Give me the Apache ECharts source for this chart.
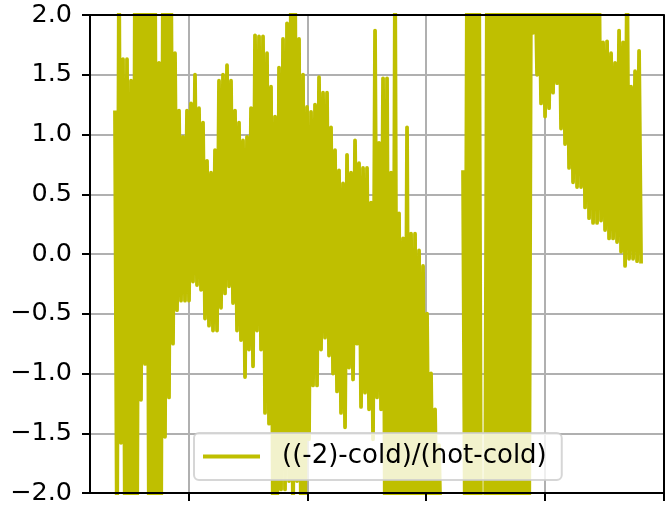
<!DOCTYPE html>
<html>
<head>
<meta charset="utf-8">
<script src="https://cdn.jsdelivr.net/npm/echarts@6.0.0/dist/echarts.min.js"></script>
<style>
  html, body { margin: 0; padding: 0; background: #ffffff; }
  #chart { width: 667px; height: 508px; }
</style>
</head>
<body>
<div id="chart"></div>
<script>
// ---- data ----
const seriesName = '((-2)-cold)/(hot-cold)';
const yTicks = [-2.0, -1.5, -1.0, -0.5, 0.0, 0.5, 1.0, 1.5, 2.0];
const xTicks = [1, 2, 3, 4, 5];          // x tick positions (labels are cut off in the reference)
const xRange = [0.166, 5.0];
const sampleStart = 0.3767;              // x of first sample
const sampleStep = 0.03372;              // spacing between successive upper-envelope samples

// upper swing of each oscillation (values beyond +2 are clipped by the axis)
const hiEnv = [
  1.2, 2.5, 1.63, 1.63, 1.45, 2.5, 2.5, 2.5, 2.5, 2.5,
  2.5, 1.6, 2.5, 2.5, 2.5, 1.68, 1.2, 0.98, 1.2, 1.26,
  1.5, 1.22, 1.1, 0.78, 0.68, 0.87, 1.45, 1.5, 1.58, 1.45,
  1.2, 1.1, 0.95, 0.98, 1.22, 1.83, 1.82, 1.82, 1.68, 1.4,
  1.15, 1.56, 1.8, 1.93, 2.5, 2.5, 1.8, 1.5, 1.23, 1.19,
  1.25, 1.48, 1.35, 1.35, 1.06, 0.87, 0.7, 0.59, 0.83, 0.68,
  0.95, 0.76, 0.72, 0.72, 0.43, 1.87, 0.93, 1.47, 1.47, 0.68,
  2.5, 0.34, 0.13, 1.06, 0.17, 0.17, 0.03, -0.1, -0.5, -1.0,
  -1.3, -1.6, null, null, null, null, null, 0.7, 2.5, 2.5,
  2.5, 2.5, null, 2.5, 2.5, 2.5, 2.5, 2.5, 2.5, 2.5,
  2.5, 2.5, 2.5, 2.5, 2.5, 2.5, 2.5, 2.5, 2.5, 2.5,
  2.5, 2.5, 2.5, 2.5, 2.5, 2.5, 2.5, 2.5, 2.5, 2.5,
  2.5, 2.5, 1.77, 1.78, 1.68, 1.6, 1.87, 1.77, 2.5, 1.4,
  1.53, 1.7
];
// lower swing of each oscillation (values beyond -2 are clipped by the axis)
const loEnv = [
  -2.5, -1.58, -2.5, -2.5, -2.5, -2.5, -1.22, -0.92, -2.5, -2.5,
  -2.5, -2.5, -1.53, -1.2, -0.75, -0.47, -0.39, -0.39, -0.39, -0.23,
  -0.26, -0.3, -0.54, -0.6, -0.64, -0.64, -0.45, -0.33, -0.27, -0.41,
  -0.64, -0.72, -1.03, -0.8, -0.94, -0.64, -0.8, -1.33, -1.42, -2.5,
  -2.5, -1.97, -1.97, -1.9, -2.5, -1.9, -2.5, -2.5, -1.55, -1.1,
  -1.1, -0.8, -0.7, -0.85, -1.0, -1.15, -1.33, -1.45, -0.95, -1.05,
  -0.75, -1.28, -1.16, -1.3, -1.55, -1.2, -1.3, -2.5, -2.5, -2.5,
  -2.5, -2.5, -2.5, -2.5, -2.5, -2.5, -2.5, -2.5, -2.5, -2.5,
  -2.5, -2.5, null, null, null, null, null, -2.5, -2.5, -2.5,
  -2.5, -2.5, -2.5, -2.5, -2.5, -2.5, -2.5, -2.5, -2.5, -2.5,
  -2.5, -2.5, -2.5, -2.5, 1.85, 1.5, 1.26, 1.15, 1.22, 1.35,
  1.43, 1.05, 0.92, 0.72, 0.6, 0.56, 0.56, 0.39, 0.3, 0.26,
  0.26, 0.28, 0.2, 0.13, 0.13, 0.1, 0.02, -0.1, -0.04, -0.04,
  -0.06, -0.08
];

// ---- build series data ----
const lineData = [];
for (let i = 0; i < hiEnv.length; i++) {
  lineData.push([sampleStart + i * sampleStep, hiEnv[i] === null ? '-' : hiEnv[i]]);
  lineData.push([sampleStart + (i + 0.5) * sampleStep, loEnv[i] === null ? '-' : loEnv[i]]);
}

const FONT = 'DejaVu Sans';
const COLOR = '#bfbf00';
const gridRect = { left: 90, right: 3.5, top: 15, bottom: 15, outerBoundsMode: 'none', containLabel: false };
const fmtY = v => (v < 0 ? '\u2212' : '') + Math.abs(v).toFixed(1);
const spine = { show: true, onZero: false, lineStyle: { color: '#000', width: 2 } };

const chart = echarts.init(document.getElementById('chart'), null, { renderer: 'canvas' });
chart.setOption({
  animation: false,
  backgroundColor: '#ffffff',
  grid: [Object.assign({}, gridRect), Object.assign({}, gridRect)],
  xAxis: [
    { // main bottom axis (spine + ticks)
      type: 'value', gridIndex: 0, position: 'bottom', min: xRange[0], max: xRange[1], z: 10,
      axisLine: spine,
      axisTick: { show: true, customValues: xTicks, length: 8, inside: false, lineStyle: { color: '#000', width: 2 } },
      axisLabel: { show: false },
      splitLine: { show: false }
    },
    { // top spine
      type: 'value', gridIndex: 0, position: 'top', min: xRange[0], max: xRange[1], z: 10,
      axisLine: spine,
      axisTick: { show: false }, axisLabel: { show: false }, splitLine: { show: false }
    },
    { // vertical grid lines (below data)
      type: 'value', gridIndex: 1, position: 'bottom', min: xRange[0], max: xRange[1], z: 0,
      axisLine: { show: false, onZero: false },
      axisTick: { show: false, customValues: xTicks },
      axisLabel: { show: false, customValues: xTicks },
      splitLine: { show: true, lineStyle: { color: '#b0b0b0', width: 2 } }
    }
  ],
  yAxis: [
    { // main left axis (spine, ticks, labels)
      type: 'value', gridIndex: 0, position: 'left', min: -2, max: 2, interval: 0.5, z: 10,
      axisLine: spine,
      axisTick: { show: true, length: 8, inside: false, lineStyle: { color: '#000', width: 2 } },
      axisLabel: { show: true, margin: 18, formatter: fmtY, color: '#000', fontSize: 25.5, fontFamily: FONT },
      splitLine: { show: false }
    },
    { // right spine
      type: 'value', gridIndex: 0, position: 'right', min: -2, max: 2, z: 10,
      axisLine: spine,
      axisTick: { show: false }, axisLabel: { show: false }, splitLine: { show: false }
    },
    { // horizontal grid lines (below data)
      type: 'value', gridIndex: 1, position: 'left', min: -2, max: 2, interval: 0.5, z: 0,
      axisLine: { show: false, onZero: false }, axisTick: { show: false }, axisLabel: { show: false },
      splitLine: { show: true, lineStyle: { color: '#b0b0b0', width: 2 } }
    }
  ],
  legend: {
    show: true,
    left: 194, top: 433,
    orient: 'horizontal',
    padding: [9, 15, 9, 9],
    backgroundColor: 'rgba(255,255,255,0.8)',
    borderColor: 'rgba(204,204,204,0.8)',
    borderWidth: 2,
    borderRadius: 5,
    itemWidth: 57, itemHeight: 4,
    icon: 'rect',
    textStyle: { fontSize: 26, fontFamily: FONT, color: '#000', lineHeight: 29, padding: [0, 0, 0, 17] },
    data: [{ name: seriesName, icon: 'rect', itemStyle: { color: COLOR } }]
  },
  series: [{
    name: seriesName,
    type: 'line',
    xAxisIndex: 0, yAxisIndex: 0,
    z: 2,
    data: lineData,
    showSymbol: false, symbol: 'none',
    connectNulls: false,
    sampling: null,
    clip: true,
    color: COLOR,
    itemStyle: { color: COLOR },
    lineStyle: { color: COLOR, width: 3.8, join: 'round', cap: 'butt' }
  }]
});
</script>
</body>
</html>
